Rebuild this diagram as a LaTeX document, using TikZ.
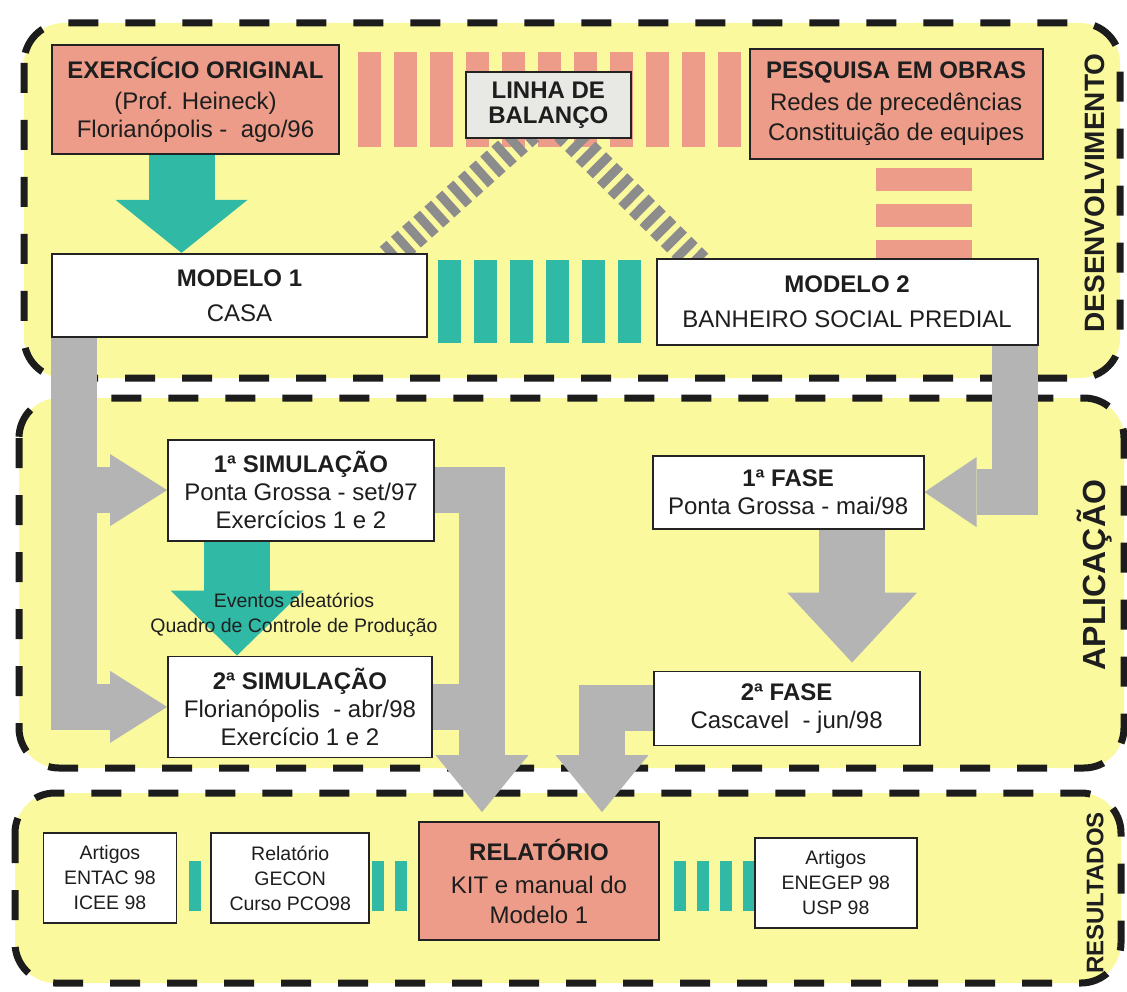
\documentclass[tikz,border=0pt]{standalone}
\usepackage{fontspec}
\setmainfont{Liberation Sans}
\usetikzlibrary{positioning, arrows.meta}

\definecolor{panelyellow}{RGB}{251,249,158}
\definecolor{panelline}{RGB}{28,28,28}
\definecolor{salmonred}{RGB}{236,156,136}
\definecolor{tealgreen}{RGB}{48,186,166}
\definecolor{flowgray}{RGB}{180,180,180}
\definecolor{hatchgray}{RGB}{140,140,140}
\definecolor{boxline}{RGB}{35,35,35}
\definecolor{linhagray}{RGB}{232,232,228}
\definecolor{textdark}{RGB}{30,30,30}

\pgfdeclarelayer{panel}
\pgfdeclarelayer{links}
\pgfsetlayers{panel,links,main}

\begin{document}
\begin{tikzpicture}[
    x=1pt, y=-1pt,
    font=\fontsize{24}{28}\selectfont,
    wh/.style 2 args={minimum width=#1pt, minimum height=#2pt},
    box/.style={draw=boxline, line width=1.8pt, fill=white, align=center, inner sep=0pt, text=textdark},
    redbox/.style={box, fill=salmonred},
    smalltxt/.style={font=\fontsize{19.5}{25}\selectfont},
    panel/.style={fill=panelyellow, draw=panelline, line width=7pt, dash pattern=on 30pt off 27pt, rounded corners=40pt},
    sidelabel/.style={rotate=90, text=textdark, font=\fontsize{#1}{#1}\selectfont\bfseries},
    salmonbars/.style={draw=salmonred, dash pattern=on 23pt off 13pt},
    tealbars/.style={draw=tealgreen, dash pattern=on 23pt off 13pt},
    smallbars/.style={draw=tealgreen, line width=50pt, dash pattern=on 12pt off 11pt},
    hatchbar/.style={draw=hatchgray, line width=28pt, dash pattern=on 9pt off 6pt, shorten <=-12pt, shorten >=-12pt},
    flow/.style={draw=flowgray, line width=46pt},
    tealflow/.style={draw=tealgreen, line width=66pt},
    headtip/.style 2 args={-{Triangle[width=#1 0 0, length=#2 0 0, line width=0pt 0 0]}}
]
\useasboundingbox (0,0) rectangle (1127,992);

% Desenvolvimento
\node[redbox, wh={287}{109}] (exer) at (195.5,99.5) {\textbf{EXERCÍCIO ORIGINAL}\\[3pt](Prof. Heineck)\\Florianópolis -~ ago/96};
\node[box, fill=linhagray, wh={165}{66}, font=\fontsize{24}{25}\selectfont\bfseries, right=125pt of exer, yshift=-5.5pt] (linha) {LINHA DE\\BALANÇO};
\node[redbox, wh={293}{110}, right=117pt of linha, yshift=1pt] (pesq) {\textbf{PESQUISA EM OBRAS}\\[4pt]Redes de precedências\\[2pt]Constituição de equipes};
\node[box, wh={375}{83}, below=98pt of exer, xshift=44pt] (mod1) {\textbf{MODELO 1}\\[7pt]CASA};
\node[box, wh={381}{86}, below=98pt of pesq, xshift=-49pt] (mod2) {\textbf{MODELO 2}\\[7pt]BANHEIRO SOCIAL PREDIAL};

% Aplicacao
\node[box, wh={266}{101}, below=101pt of mod1, xshift=61.5pt] (sim1) {\textbf{1ª SIMULAÇÃO}\\Ponta Grossa - set/97\\Exercícios 1 e 2};
\node[box, wh={264}{101}, below=114pt of sim1, xshift=-1pt] (sim2) {\textbf{2ª SIMULAÇÃO}\\Florianópolis~ - abr/98\\Exercício 1 e 2};
\node[box, wh={271}{73}, below=109pt of mod2, xshift=-59pt] (fase1) {\textbf{1ª FASE}\\Ponta Grossa - mai/98};
\node[box, wh={266}{74}, below=141pt of fase1, xshift=-1.5pt] (fase2) {\textbf{2ª FASE}\\Cascavel~ - jun/98};
\node[smalltxt, align=center, text=textdark] (evt) at (294,615) {Eventos aleatórios\\Quadro de Controle de Produção};

% Resultados
\node[redbox, wh={240}{118}] (rel) at (539,881) {\textbf{RELATÓRIO}\\[5pt]KIT e manual do\\[2pt]Modelo 1};
\node[box, smalltxt, wh={158}{90}, left=48pt of rel, yshift=3pt] (gecon) {Relatório\\GECON\\Curso PCO98};
\node[box, smalltxt, wh={133}{90}, left=33pt of gecon] (art1) {Artigos\\ENTAC 98\\ICEE 98};
\node[box, smalltxt, wh={162}{90}, right=94pt of rel, yshift=-2pt] (art2) {Artigos\\ENEGEP 98\\USP 98};

% Side labels
\node[sidelabel=28] (desen) at (1095,193) {DESENVOLVIMENTO};
\node[sidelabel=32] (aplic) at (1095,575) {APLICAÇÃO};
\node[sidelabel=24] (resul) at (1095,893) {RESULTADOS};

% Panels
\begin{pgfonlayer}{panel}
\fill[white] (0,0) rectangle (1127,992);
\draw[panel] (24,23) rectangle (1120,378);
\draw[panel] (19,398) rectangle (1124,768);
\draw[panel] (15,793) rectangle (1121,983);
\end{pgfonlayer}

% Links
\begin{pgfonlayer}{links}
\draw[salmonbars, line width=95pt] ([xshift=18pt]exer.east) -- ([xshift=-5pt]pesq.west |- exer.east);
\draw[salmonbars, line width=96pt] ([xshift=27.5pt, yshift=-8pt]pesq.south) -- ([xshift=27.5pt]pesq.south |- mod2.north);
\draw[tealbars, line width=83pt] ([xshift=10pt]mod1.east |- mod2.west) -- ([xshift=-13pt]mod2.west);
\draw[hatchbar] ([xshift=-27.5pt]linha.south) -- ([xshift=-34pt]mod1.north east);
\draw[hatchbar] ([xshift=24.5pt]linha.south) -- ([xshift=37pt]mod2.north west);

\draw[tealflow, headtip={132pt}{53pt}] ([xshift=-14pt]exer.south) -- ([xshift=-14pt]exer.south |- mod1.north);
\draw[tealflow, headtip={133pt}{65pt}] ([xshift=-64pt]sim1.south) -- ([xshift=-64pt]sim1.south |- sim2.north);

\draw[flow, headtip={72pt}{57pt}] ([xshift=23pt]mod1.south west) |- (sim1.west);
\draw[flow, headtip={72pt}{57pt}] ([xshift=23pt]mod1.south west) |- (sim2.west);
\draw[flow, headtip={70pt}{52pt}] ([xshift=-24pt]mod2.south east) |- (fase1.east);
\draw[flow, line width=66pt, headtip={130pt}{70pt}] ([xshift=64pt]fase1.south) -- ([xshift=64pt, yshift=8pt]fase1.south |- fase2.north);
\draw[flow, headtip={93pt}{57pt}] (sim1.east) -| ([xshift=-57pt, yshift=9pt]rel.north);
\draw[flow] (sim2.east) -- ([xshift=-57pt]rel.north |- sim2.east);
\draw[flow, headtip={93pt}{57pt}] (fase2.west) -| ([xshift=63pt, yshift=9pt]rel.north);

\draw[smallbars] ([xshift=12pt, yshift=-8pt]art1.east) -- ([xshift=-8pt, yshift=-8pt]gecon.west);
\draw[smallbars] ([xshift=2pt, yshift=-8pt]gecon.east) -- ([xshift=-11pt, yshift=-5pt]rel.west);
\draw[smallbars] ([xshift=14pt, yshift=-5pt]rel.east) -- ([yshift=-3pt]art2.west);
\end{pgfonlayer}

\end{tikzpicture}
\end{document}
